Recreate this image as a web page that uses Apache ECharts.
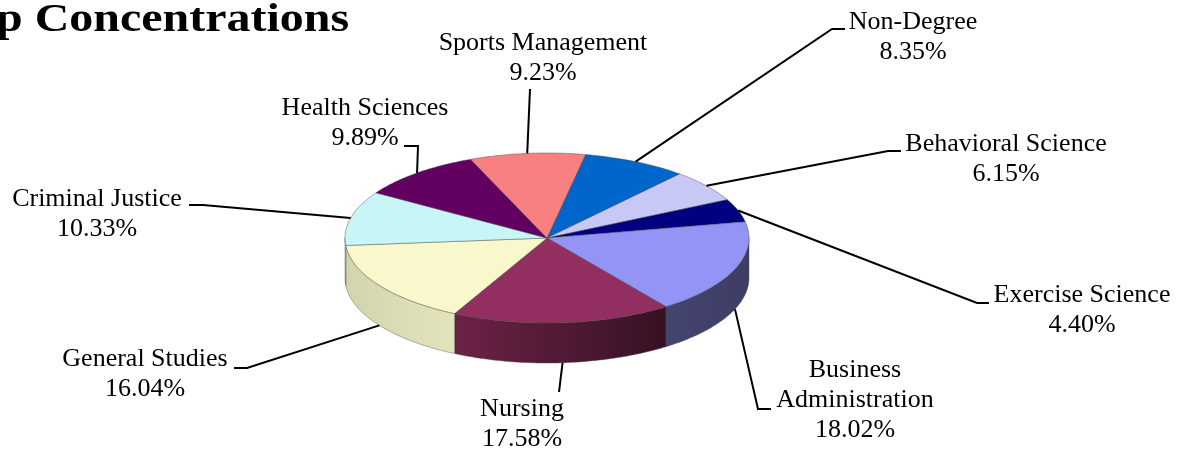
<!DOCTYPE html>
<html>
<head>
<meta charset="utf-8">
<script src="https://cdn.jsdelivr.net/npm/echarts@6/dist/echarts.min.js"></script>
<style>
  html, body { margin: 0; padding: 0; background: #fff; }
  #chart { width: 1180px; height: 451px; }
</style>
</head>
<body>
<div id="chart"></div>
<script>
// slices, clockwise from the top of the pie
const categories = ['Non-Degree', 'Behavioral Science', 'Exercise Science', 'Business\nAdministration',
  'Nursing', 'General Studies', 'Criminal Justice', 'Health Sciences', 'Sports Management'];
const percents = [8.35, 6.15, 4.40, 18.02, 17.58, 16.04, 10.33, 9.89, 9.23];
const sliceColors = ['#0066CC', '#C8C8F6', '#000080', '#9494F6', '#922E60',
  '#F8F8CC', '#C8F6F6', '#620062', '#F88080'];
// side wall shading, left -> right brightness factor
const wallShade = [[0.5, 0.5], [0.5, 0.5], [0.5, 0.5], [0.46, 0.41],
  [0.74, 0.38], [0.85, 0.92], [0.86, 0.86], [0.8, 0.8], [0.8, 0.8]];

// pie geometry (3d look)
const pie = { cx: 547, cy: 238, rx: 202, ry: 85, depth: 40, start: 11 };
const FONT = '26px "Liberation Serif", "Times New Roman", serif';

// label placement: text block centre, leader elbow, leader tail
const labelLayout = [
  { x: 913, y: 37, ex: 832, ey: 29, tx: 845 },
  { x: 1006, y: 159, ex: 888, ey: 151, tx: 901 },
  { x: 1082, y: 310, ex: 977, ey: 303, tx: 989 },
  { x: 855, y: 400, ex: 758, ey: 409, tx: 771 },
  { x: 522, y: 424, ex: 559, ey: 392, tx: 559 },
  { x: 145, y: 374, ex: 247, ey: 368, tx: 234 },
  { x: 97, y: 214, ex: 203, ey: 205, tx: 189 },
  { x: 365, y: 123, ex: 418, ey: 146, tx: 404 },
  { x: 543, y: 58, ex: 530, ey: 89, tx: 530 }
];

const total = percents.reduce((a, b) => a + b, 0);

function pt(a, dy) {
  const r = a * Math.PI / 180;
  return [pie.cx + pie.rx * Math.sin(r), pie.cy - pie.ry * Math.cos(r) + (dy || 0)];
}

function shade(hex, f) {
  const n = parseInt(hex.slice(1), 16);
  const c = [(n >> 16) & 255, (n >> 8) & 255, n & 255].map(v => Math.min(255, Math.round(v * f)));
  return 'rgb(' + c.join(',') + ')';
}

function renderItem(params, api) {
  const i = params.dataIndex;
  let a0 = pie.start;
  for (let j = 0; j < i; j++) a0 += percents[j] / total * 360;
  const a1 = a0 + api.value(0) / total * 360;
  const color = sliceColors[i];
  const children = [];

  // side wall, only the front half shows
  const s = Math.max(a0, 90), e = Math.min(a1, 270);
  if (e > s) {
    const topArc = [], botArc = [];
    for (let a = s; a < e; a += 1) { topArc.push(pt(a)); botArc.push(pt(a, pie.depth)); }
    topArc.push(pt(e)); botArc.push(pt(e, pie.depth));
    const f = wallShade[i];
    // arc runs right -> left, so gradient goes from x of end to x of start
    children.push({
      type: 'polygon',
      shape: { points: topArc.concat(botArc.reverse()) },
      style: {
        fill: new echarts.graphic.LinearGradient(pt(e)[0], 0, pt(s)[0], 0, [
          { offset: 0, color: shade(color, f[0]) },
          { offset: 1, color: shade(color, f[1]) }
        ], true),
        stroke: 'rgba(70,70,70,0.5)', lineWidth: 0.8
      }
    });
  }

  // top face
  const face = [[pie.cx, pie.cy]];
  for (let a = a0; a < a1; a += 1) face.push(pt(a));
  face.push(pt(a1));
  children.push({
    type: 'polygon',
    shape: { points: face },
    style: { fill: color, stroke: 'rgba(70,70,70,0.55)', lineWidth: 0.8 }
  });

  // leader line from the middle of the slice rim
  const mid = (a0 + a1) / 2;
  const m = ((mid % 360) + 360) % 360;
  const anchor = pt(mid, (m > 90 && m < 270) ? pie.depth : 0);
  const L = labelLayout[i];
  children.push({
    type: 'polyline',
    shape: { points: [anchor, [L.ex, L.ey], [L.tx, L.ey]] },
    style: { stroke: '#000', lineWidth: 2, fill: null }
  });

  children.push({
    type: 'text',
    style: {
      text: categories[i] + '\n' + api.value(0).toFixed(2) + '%',
      x: L.x, y: L.y,
      align: 'center', verticalAlign: 'middle',
      font: FONT, lineHeight: 30, fill: '#000'
    }
  });

  return { type: 'group', children: children };
}

const chart = echarts.init(document.getElementById('chart'));
chart.setOption({
  backgroundColor: '#fff',
  animation: false,
  graphic: [{
    type: 'text', x: -4, y: 0, scaleX: 1.17,
    style: {
      text: 'p Concentrations',
      font: 'bold 41px "Liberation Serif", "Times New Roman", serif',
      fill: '#000', verticalAlign: 'top'
    }
  }],
  series: [{
    type: 'custom',
    coordinateSystem: 'none',
    renderItem: renderItem,
    data: percents
  }]
});
</script>
</body>
</html>
